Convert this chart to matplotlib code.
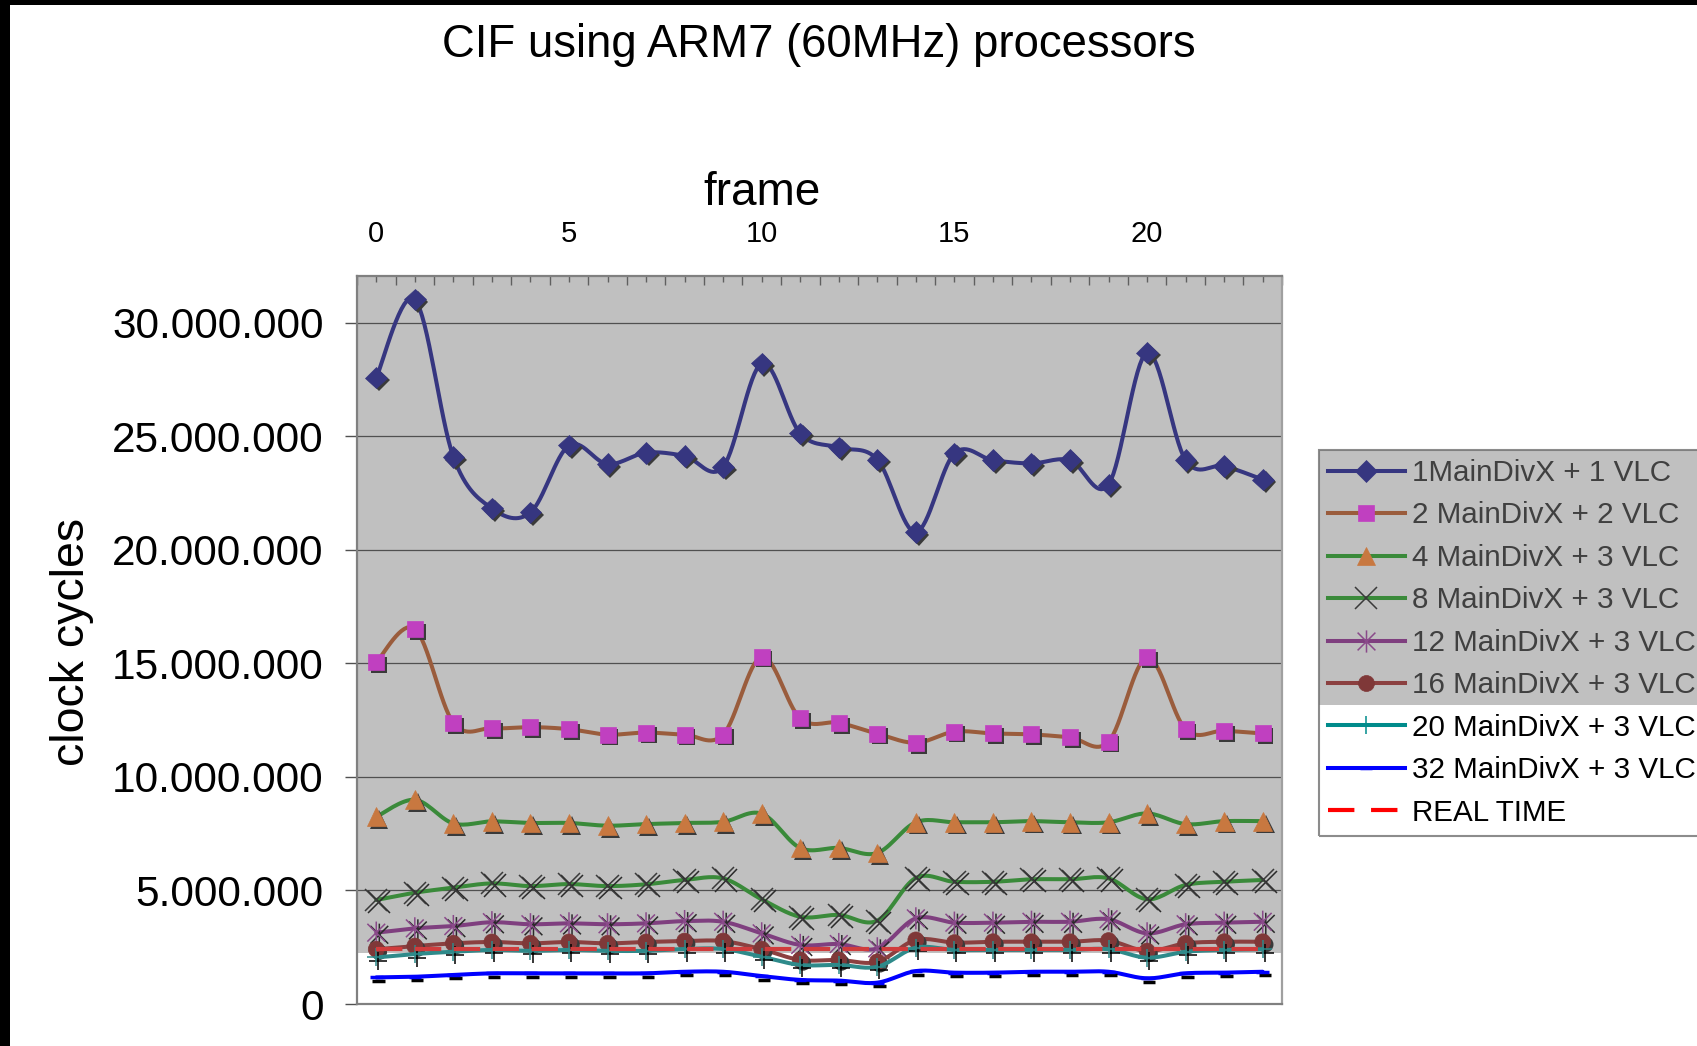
import numpy as np
import matplotlib
matplotlib.use('Agg')
import matplotlib.pyplot as plt
from matplotlib import patheffects as pe
from matplotlib.path import Path
from matplotlib.patches import Rectangle
from matplotlib.ticker import FixedLocator, FuncFormatter, NullFormatter
from matplotlib.lines import Line2D

plt.rcParams['font.family'] = ['Liberation Sans', 'DejaVu Sans']
plt.rcParams['lines.scale_dashes'] = False

# ---------------- data (clock cycles, millions) ----------------
frames = list(range(24))
series_names = ["1MainDivX + 1 VLC", "2 MainDivX + 2 VLC", "4 MainDivX + 3 VLC",
                "8 MainDivX + 3 VLC", "12 MainDivX + 3 VLC", "16 MainDivX + 3 VLC",
                "20 MainDivX + 3 VLC", "32 MainDivX + 3 VLC", "REAL TIME"]
s1 = [27.58, 31.02, 24.09, 21.82, 21.64, 24.59, 23.77, 24.27, 24.13, 23.65, 28.20, 25.12,
      24.50, 23.97, 20.77, 24.24, 23.94, 23.80, 23.94, 22.87, 28.68, 23.94, 23.68, 23.09]
s2 = [15.05, 16.52, 12.38, 12.14, 12.19, 12.10, 11.86, 11.95, 11.86, 11.86, 15.29, 12.57,
      12.38, 11.90, 11.50, 11.99, 11.91, 11.87, 11.74, 11.55, 15.26, 12.09, 12.03, 11.91]
s4 = [8.24, 8.99, 7.95, 8.04, 7.97, 7.97, 7.85, 7.92, 7.97, 8.02, 8.38, 6.87,
      6.87, 6.65, 8.00, 8.00, 8.00, 8.05, 8.00, 8.00, 8.39, 7.92, 8.05, 8.05]
s8 = [4.58, 4.90, 5.12, 5.31, 5.19, 5.28, 5.19, 5.27, 5.46, 5.53, 4.61, 3.84,
      3.92, 3.67, 5.55, 5.38, 5.38, 5.49, 5.49, 5.53, 4.61, 5.24, 5.38, 5.46]
s12 = [3.14, 3.33, 3.43, 3.60, 3.51, 3.55, 3.51, 3.55, 3.65, 3.62, 3.11, 2.60,
       2.64, 2.45, 3.77, 3.58, 3.58, 3.62, 3.62, 3.73, 3.11, 3.51, 3.58, 3.62]
s16 = [2.41, 2.55, 2.67, 2.73, 2.67, 2.73, 2.67, 2.73, 2.77, 2.77, 2.41, 1.94,
       1.94, 1.86, 2.82, 2.70, 2.74, 2.74, 2.74, 2.79, 2.33, 2.67, 2.74, 2.74]
s20 = [2.05, 2.20, 2.30, 2.38, 2.34, 2.38, 2.34, 2.34, 2.42, 2.42, 2.08, 1.72,
       1.72, 1.64, 2.48, 2.38, 2.38, 2.38, 2.38, 2.41, 2.04, 2.30, 2.38, 2.41]
s32 = [1.17, 1.20, 1.28, 1.35, 1.35, 1.35, 1.35, 1.35, 1.42, 1.42, 1.23, 1.06,
       1.03, 0.94, 1.45, 1.38, 1.38, 1.42, 1.42, 1.42, 1.13, 1.35, 1.38, 1.42]
real_time = [2.4, 2.4, 2.4, 2.4, 2.4, 2.4, 2.4, 2.4, 2.4, 2.4, 2.4, 2.4,
             2.4, 2.4, 2.4, 2.4, 2.4, 2.4, 2.4, 2.4, 2.4, 2.4, 2.4, 2.4]
y_ticks = [0, 5e6, 10e6, 15e6, 20e6, 25e6, 30e6]
x_label_ticks = [0, 5, 10, 15, 20]


def smooth(x, y, n=16):
    """Excel-like smoothed line (Bezier, Catmull-Rom tangents) for display."""
    x = np.asarray(x, float); y = np.asarray(y, float)
    N = len(x)
    xs, ys = [x[0]], [y[0]]
    t = np.linspace(0, 1, n + 1)[1:][:, None]
    for i in range(N - 1):
        p0 = np.array([x[i], y[i]]); p3 = np.array([x[i + 1], y[i + 1]])
        pm = np.array([x[i - 1], y[i - 1]]) if i > 0 else p0
        pp = np.array([x[i + 2], y[i + 2]]) if i + 2 < N else p3
        p1 = p0 + (p3 - pm) / 6.0
        p2 = p3 - (pp - p0) / 6.0
        b = (1 - t) ** 3 * p0 + 3 * (1 - t) ** 2 * t * p1 + 3 * (1 - t) * t ** 2 * p2 + t ** 3 * p3
        xs.extend(b[:, 0]); ys.extend(b[:, 1])
    return np.array(xs), np.array(ys)


W, H = 1697, 1046
fig = plt.figure(figsize=(W / 100, H / 100), dpi=100)
fig.patch.set_facecolor('white')

L, R, T, B = 357, 1282, 276, 1004
ax = fig.add_axes([L / W, 1 - B / H, (R - L) / W, (B - T) / H])
ax.set_facecolor('white')
ax.set_xlim(-0.5, 23.5)
ax.set_ylim(0, 32.05e6)

# plot-area background (gray upper part, white strip at bottom)
ax.axhspan(2.23e6, 32.05e6, color='#c0c0c0', zorder=0.1, lw=0)

asterisk = Path([(-1, -1), (1, 1), (-1, 1), (1, -1), (0, -1.25), (0, 1.25)],
                [Path.MOVETO, Path.LINETO, Path.MOVETO, Path.LINETO, Path.MOVETO, Path.LINETO])

fill_shadow = [pe.SimplePatchShadow(offset=(2, -2), shadow_rgbFace='#3a3a3a', alpha=1.0), pe.Normal()]
line_shadow = [pe.SimpleLineShadow(offset=(2.2, -1.5), shadow_color='#2a2a2a', alpha=1.0), pe.Normal()]
line_shadow2 = [pe.SimpleLineShadow(offset=(1.5, -2.5), shadow_color='#000000', alpha=1.0), pe.Normal()]

styles = [
    dict(vals=s1, lc='#363680', m='D', ms=11, mfc='#363680', mec='#363680', mew=0.5, eff=fill_shadow),
    dict(vals=s2, lc='#9a5c3c', m='s', ms=11.5, mfc='#c040c0', mec='#c040c0', mew=0.5, eff=fill_shadow),
    dict(vals=s4, lc='#3a8a3a', m='^', ms=13.5, mfc='#c87840', mec='#c87840', mew=0.5, eff=fill_shadow),
    dict(vals=s8, lc='#3a8a3a', m='x', ms=16, mfc='none', mec='#3a3a3a', mew=1.1, eff=line_shadow),
    dict(vals=s12, lc='#7f3f7f', m=asterisk, ms=16, mfc='none', mec='#8a4a8a', mew=1.1, eff=line_shadow),
    dict(vals=s16, lc='#8b4040', m='o', ms=11.5, mfc='#7f3838', mec='#7f3838', mew=0.5, eff=fill_shadow),
    dict(vals=s20, lc='#2e8a8a', m='+', ms=13, mfc='none', mec='#2e8a8a', mew=1.1, eff=line_shadow2),
    dict(vals=s32, lc='#0000ff', m='_', ms=9, mfc='none', mec='#0000ff', mew=2.5, eff=line_shadow2),
]

for k, st in enumerate(styles):
    vals = np.array(st['vals']) * 1e6
    xs, ys = smooth(frames, vals)
    z = 3 + k * 0.1
    ax.plot(xs, ys, color=st['lc'], lw=2.9, solid_capstyle='round', solid_joinstyle='round', zorder=z)
    ax.plot(frames, vals, ls='none', marker=st['m'], ms=st['ms'], mfc=st['mfc'], mec=st['mec'],
            mew=st['mew'], path_effects=st['eff'], zorder=z + 0.05)

ax.plot(frames, np.array(real_time) * 1e6, color='#d03c3c', lw=3.0, dashes=(19, 9), zorder=3.65)

# axes styling
for sp in ax.spines.values():
    sp.set_color('#808080'); sp.set_linewidth(1.6)
ax.spines['right'].set_color('#a0a0a0')

ax.yaxis.set_major_locator(FixedLocator(y_ticks))
ax.yaxis.set_major_formatter(FuncFormatter(lambda v, p: f"{int(round(v)):,}".replace(',', '.')))
ax.tick_params(axis='y', which='major', direction='out', length=9, width=1.0, color='#505050',
               labelsize=30.5, pad=15)
ax.set_axisbelow(True)
ax.yaxis.grid(True, color='#505050', lw=0.9)

ax.xaxis.tick_top()
ax.xaxis.set_major_locator(FixedLocator(np.arange(-0.5, 24, 1.0)))
ax.xaxis.set_major_formatter(NullFormatter())
ax.xaxis.set_minor_locator(FixedLocator(frames))
ax.xaxis.set_minor_formatter(FuncFormatter(lambda v, p: str(int(v)) if int(round(v)) in x_label_ticks else ''))
ax.tick_params(axis='x', which='major', direction='in', length=6.5, width=1.0, color='#606060',
               top=True, bottom=False, labeltop=False, labelbottom=False)
ax.tick_params(axis='x', which='minor', direction='in', length=4, width=1.0, color='#606060',
               top=True, bottom=False, labeltop=True, labelbottom=False, labelsize=21, pad=20)

# titles / labels
fig.text(819 / W, 1 - 57 / H, "CIF using ARM7 (60MHz) processors", fontsize=32.8,
         ha='center', va='baseline')
fig.text(762 / W, 1 - 205 / H, "frame", fontsize=33, ha='center', va='baseline')
fig.text(84 / W, 1 - 642 / H, "clock cycles", fontsize=33.5, rotation=90, rotation_mode='anchor',
         ha='center', va='baseline')

# legend
handles = []
for k, st in enumerate(styles):
    handles.append(Line2D([], [], color=st['lc'], lw=2.9, marker=st['m'], ms=st['ms'],
                          mfc=st['mfc'], mec=st['mec'], mew=st['mew']))
handles[6].set_color('#008b8b'); handles[6].set_markeredgecolor('#008b8b')
handles.append(Line2D([], [], color='#ff0000', lw=3.0, dashes=(19, 12)))

leg = fig.legend(handles, series_names, loc='upper left',
                 bbox_to_anchor=(1319 / W, 1 - 450 / H), bbox_transform=fig.transFigure,
                 fontsize=21.3, frameon=True, fancybox=False, borderpad=0.3, borderaxespad=0,
                 labelspacing=0.49, handlelength=2.6, handletextpad=0.26, numpoints=1)
leg.get_frame().set_facecolor('none')
leg.get_frame().set_edgecolor('#707070')
leg.get_frame().set_linewidth(1.5)
leg.set_zorder(5)
for t in leg.get_texts()[:6]:
    t.set_color('#404040')
fig.add_artist(Rectangle((1319 / W, 1 - 705 / H), (W - 1319) / W, (705 - 450) / H,
                         transform=fig.transFigure, facecolor='#c0c0c0', edgecolor='none', zorder=1))

# black frame edges of the screenshot
fig.add_artist(Rectangle((0, 1 - 5 / H), 1, 5 / H, transform=fig.transFigure,
                         facecolor='black', edgecolor='none', zorder=20))
fig.add_artist(Rectangle((0, 0), 10 / W, 1, transform=fig.transFigure,
                         facecolor='black', edgecolor='none', zorder=20))

fig.savefig('out.png', dpi=100)
